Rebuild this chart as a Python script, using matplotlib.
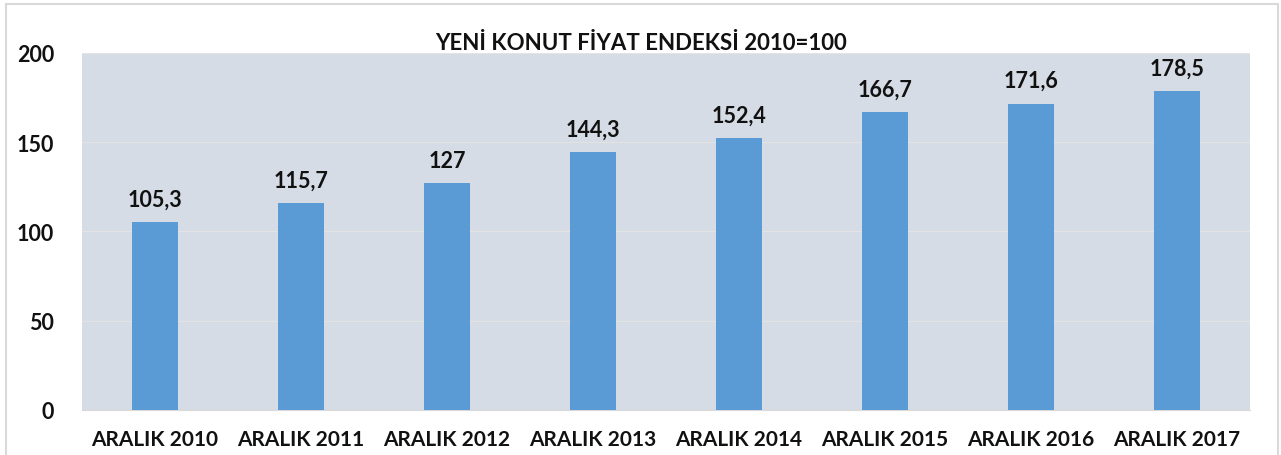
import matplotlib.pyplot as plt
from matplotlib.patches import Rectangle

categories = ["ARALIK 2010", "ARALIK 2011", "ARALIK 2012", "ARALIK 2013",
              "ARALIK 2014", "ARALIK 2015", "ARALIK 2016", "ARALIK 2017"]
values = [105.3, 115.7, 127, 144.3, 152.4, 166.7, 171.6, 178.5]
value_labels = ["105,3", "115,7", "127", "144,3", "152,4", "166,7", "171,6", "178,5"]
yticks = [0, 50, 100, 150, 200]

plt.rcParams['font.family'] = ['Lato', 'DejaVu Sans']
plt.rcParams['font.weight'] = 'bold'

fig = plt.figure(figsize=(12.81, 4.56), dpi=100)
ax = fig.add_axes([0.064, 0.0987, 0.9118, 0.7829])

x = range(len(categories))
ax.bar(x, values, width=0.31, color='#5B9BD5', zorder=3)
for i, v in enumerate(values):
    ax.text(i, v + 7, value_labels[i], ha='center', va='bottom',
            fontsize=15.5, fontweight='bold', color='#111111')

ax.set_facecolor('#D6DCE5')
ax.set_xlim(-0.5, len(categories) - 0.5)
ax.set_ylim(0, 200)
ax.set_yticks(yticks)
ax.set_yticklabels([str(t) for t in yticks], fontsize=15.5, fontweight='bold', color='#111111')
ax.set_xticks(list(x))
ax.set_xticklabels(categories, fontsize=15, fontweight='bold', color='#111111')
ax.tick_params(length=0)
ax.tick_params(axis='x', pad=14)
ax.tick_params(axis='y', pad=20)
ax.grid(axis='y', color='#E3E3E3', linewidth=0.8, zorder=0)
for s in ['top', 'left', 'right']:
    ax.spines[s].set_visible(False)
ax.spines['bottom'].set_color('#D9D9D9')

fig.text(0.5, 0.905, "YENİ KONUT FİYAT ENDEKSİ 2010=100", ha='center', va='center',
         fontsize=16, fontweight='bold', color='#111111')

fig.patches.append(Rectangle((0.0047, -0.01), 0.993, 1.0, transform=fig.transFigure,
                             fill=False, edgecolor='#D9D9D9', linewidth=1.5))

fig.savefig('out.png', dpi=100)
